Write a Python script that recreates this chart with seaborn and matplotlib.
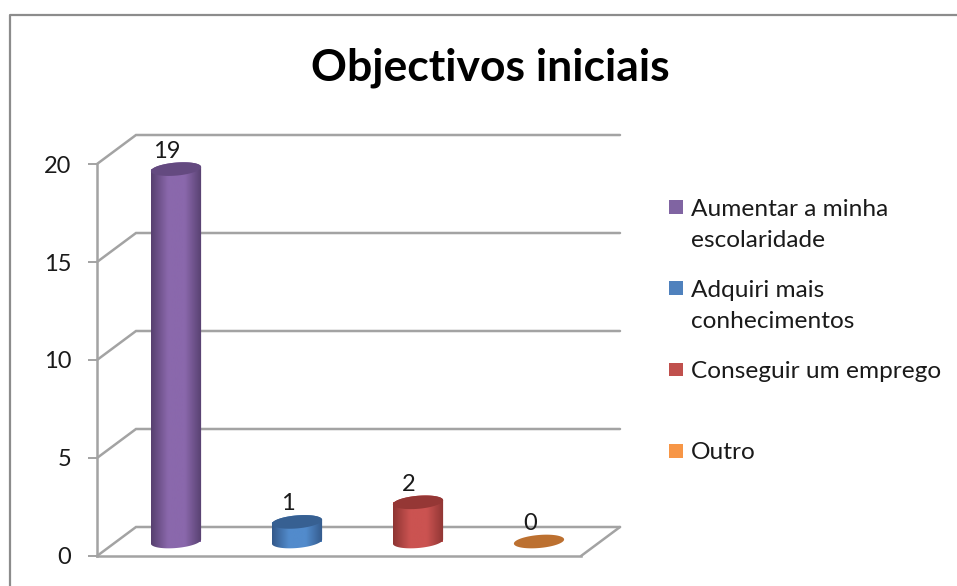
import numpy as np
import matplotlib
matplotlib.use("Agg")
import matplotlib.pyplot as plt
import seaborn as sns
from matplotlib.colors import LinearSegmentedColormap
from matplotlib.lines import Line2D
from matplotlib.patches import Polygon, Rectangle
from matplotlib.legend_handler import HandlerPatch

# ---- data ----
title = "Objectivos iniciais"
categories = ["Aumentar a minha\nescolaridade", "Adquiri mais\nconhecimentos",
              "Conseguir um emprego\n ", "Outro\n "]
values = [19, 1, 2, 0]
y_ticks = [0, 5, 10, 15, 20]

# ---- styles ----
legend_colors = ["#8064A2", "#4F81BD", "#C0504D", "#F79646"]
mid_colors = ["#8A68AC", "#528BCC", "#CB5351", "#D98A3A"]
edge_colors = ["#57406F", "#33598A", "#8E3533", "#A86426"]
cap_colors = ["#644A80", "#376092", "#953735", "#BC7030"]
line_color = "#A3A3A3"
text_color = "#1A1A1A"

W, H = 957, 586
sns.set_theme(style="white")
plt.rcParams["font.family"] = ["Lato", "DejaVu Sans"]
fig = plt.figure(figsize=(W / 100, H / 100), dpi=100, facecolor="white")


def axes_px(left, base, width, height):
    return fig.add_axes([left / W, (H - base) / H, width / W, height / H])


# Outer chart frame (top and left edges only are inside the crop)
fig.add_artist(Line2D([10 / W, 10 / W, 1], [0, 1 - 14.5 / H, 1 - 14.5 / H],
                      transform=fig.transFigure, color="#8C8C8C", lw=1.6))

# ---- front plane: axis, floor and walls ----
ax = axes_px(97, 556, 484, 392)
ax.set_xlim(-0.5, 3.5)
ax.set_ylim(0, 20)
dx, dy = 39 / 121, 29 / 19.6
x0, x1 = -0.5, 3.5
for t in y_ticks:
    ax.plot([x0, x0 + dx, x1 + dx], [t, t + dy, t + dy], color=line_color,
            lw=1.8, clip_on=False, solid_joinstyle="miter", zorder=1)
ax.plot([x1, x1 + dx], [0, dy], color=line_color, lw=1.8, clip_on=False, zorder=1)
ax.set_xticks([])
ax.set_yticks(y_ticks)
ax.tick_params(axis="y", left=True, length=6.5, width=1.4, color=line_color, pad=12,
               labelsize=17, labelcolor=text_color)
for side in ("top", "right"):
    ax.spines[side].set_visible(False)
for side in ("left", "bottom"):
    ax.spines[side].set_color(line_color)
    ax.spines[side].set_linewidth(1.8)

# ---- bar plane, half a depth behind the front (scale runs one unit below 0
#      so the rounded bottoms of the cylinders stay inside the axes) ----
ax_b = axes_px(115.5, 541.5 + 19.6, 484, 392 + 19.6)
sns.barplot(x=categories, y=values, hue=categories, palette=mid_colors, dodge=False,
            width=50 / 121, legend=False, ax=ax_b, linewidth=0, saturation=1)
ax_b.axis("off")
ax_b.patch.set_visible(False)

px_x, px_y = 121.0, 19.6       # pixels per data unit
a, b, tilt = 25.2, 6.5, np.deg2rad(5)


def ellipse(xc, yc, t):
    ex = a * np.cos(t)
    ey = b * np.sin(t)
    return (xc + (ex * np.cos(tilt) - ey * np.sin(tilt)) / px_x,
            yc + (ex * np.sin(tilt) + ey * np.cos(tilt)) / px_y)


half_w = 25.3 / 121
for i, v in enumerate(values):
    top = ellipse(i, v, np.linspace(0, 2 * np.pi, 90))
    if v > 0:
        low = ellipse(i, 0, np.linspace(np.pi, 2 * np.pi, 45))
        upp = ellipse(i, v, np.linspace(0, np.pi, 45))
        outline = np.column_stack([np.r_[low[0], upp[0]], np.r_[low[1], upp[1]]])
        cmap = LinearSegmentedColormap.from_list(
            "cyl", [edge_colors[i], mid_colors[i], mid_colors[i], edge_colors[i]])
        grad = np.linspace(0, 1, 128)[None, :]
        im = ax_b.imshow(grad, extent=(i - half_w, i + half_w, -1, v + 1), aspect="auto",
                         cmap=cmap, zorder=3, interpolation="bilinear")
        im.set_clip_path(Polygon(outline, closed=True, transform=ax_b.transData))
    ax_b.add_patch(Polygon(np.column_stack(top), closed=True, facecolor=cap_colors[i],
                           edgecolor="none", zorder=4, clip_on=False))
    ax_b.annotate(str(v), (i, v), xytext=(-6.5, 13),
                  textcoords="offset points", ha="center", va="center",
                  fontsize=17, color=text_color, annotation_clip=False, zorder=5)
ax_b.set_xlim(-0.5, 3.5)
ax_b.set_ylim(-1, 20)

# ---- title ----
fig.text(490 / W, 1 - 67.5 / H, title, ha="center", va="center", fontsize=32,
         fontweight="bold", color="black")


# ---- legend ----
class FirstLineSquare(HandlerPatch):
    def create_artists(self, legend, orig_handle, xdescent, ydescent, width, height,
                       fontsize, trans):
        side = 10.0
        r = Rectangle((0, 13.8), side, side, facecolor=orig_handle.get_facecolor(),
                      edgecolor="none", transform=trans)
        return [r]


handles = [Rectangle((0, 0), 1, 1, facecolor=c) for c in legend_colors]
leg = fig.legend(handles, categories, loc="upper left",
                 bbox_to_anchor=(669 / W, 1 - 199 / H), frameon=False, fontsize=17.6,
                 borderpad=0, borderaxespad=0, handlelength=0.57, handletextpad=0.33,
                 labelspacing=1.2,
                 handler_map={Rectangle: FirstLineSquare()})
for txt in leg.get_texts():
    txt.set_linespacing(1.575)
    txt.set_color(text_color)

fig.savefig("out.png", dpi=100)
